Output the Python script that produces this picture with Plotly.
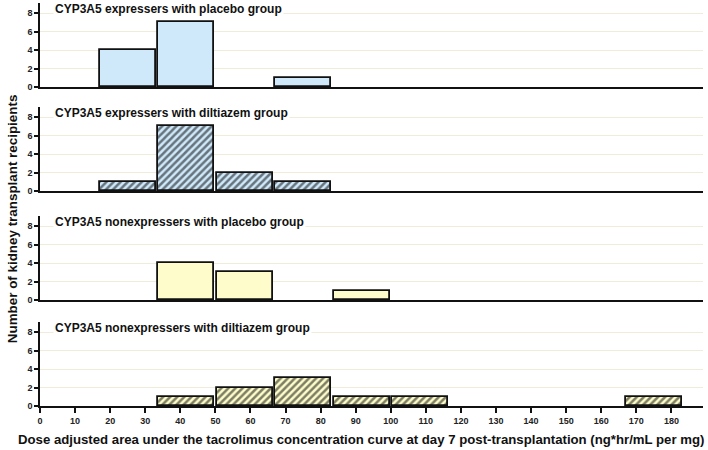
import plotly.graph_objects as go

# Bin centers (bins of width 100/6 on the x axis)
bin_centers = [25.0, 41.67, 58.33, 75.0, 91.67, 108.33, 175.0]
exp_placebo = [4, 7, 0, 1, 0, 0, 0]
exp_diltiazem = [1, 7, 2, 1, 0, 0, 0]
nonexp_placebo = [0, 4, 3, 0, 1, 0, 0]
nonexp_diltiazem = [0, 1, 2, 3, 1, 1, 1]

panel_titles = [
    "CYP3A5 expressers with placebo group",
    "CYP3A5 expressers with diltiazem group",
    "CYP3A5 nonexpressers with placebo group",
    "CYP3A5 nonexpressers with diltiazem group",
]
x_ticks = list(range(0, 181, 10))
y_ticks = [0, 2, 4, 6, 8]

BLUE = "#cfe9fa"
YELLOW = "#fdfcca"
series = [
    (exp_placebo, BLUE, ""),
    (exp_diltiazem, BLUE, "/"),
    (nonexp_placebo, YELLOW, ""),
    (nonexp_diltiazem, YELLOW, "/"),
]
domains = [[0.7916, 1.0], [0.5335, 0.742], [0.263, 0.4715], [0.0, 0.2084]]

FONT = "Liberation Sans, Arial, sans-serif"
fig = go.Figure()
layout = {}
for i, (vals, col, pat) in enumerate(series):
    n = i + 1
    xs = [c for c, v in zip(bin_centers, vals) if v > 0]
    ys = [v for v in vals if v > 0]
    fig.add_trace(go.Bar(
        x=xs, y=ys, width=16.0,
        xaxis=f"x{n}" if n > 1 else "x",
        yaxis=f"y{n}" if n > 1 else "y",
        marker=dict(
            color=col,
            line=dict(color="#111111", width=1.8),
            pattern=dict(shape=pat, fgcolor="#000000", bgcolor=col, size=5, solidity=0.5) if pat else None,
        ),
        showlegend=False,
        hoverinfo="skip",
    ))
    xkey = "xaxis" if n == 1 else f"xaxis{n}"
    ykey = "yaxis" if n == 1 else f"yaxis{n}"
    last = (n == 4)
    layout[xkey] = dict(
        domain=[0, 1], anchor=f"y{n}" if n > 1 else "y",
        range=[0, 189], showgrid=False, zeroline=False, automargin=False,
        showline=True, linecolor="#111111", linewidth=1.6,
        tickvals=x_ticks if last else [],
        ticks="outside" if last else "", ticklen=5, tickwidth=1.5, tickcolor="#111111",
        showticklabels=last,
        tickfont=dict(family=FONT, size=9, color="#222222", weight="bold"),
        matches="x" if n > 1 else None,
    )
    layout[ykey] = dict(
        domain=domains[i], anchor=f"x{n}" if n > 1 else "x",
        range=[0, 9.1], tickvals=y_ticks, automargin=False,
        showgrid=True, gridcolor="#efedda", gridwidth=1,
        zeroline=False, showline=True, linecolor="#111111", linewidth=1.5,
        ticks="outside", ticklen=4, tickwidth=1.5, tickcolor="#111111",
        tickfont=dict(family=FONT, size=9, color="#222222", weight="bold"),
    )
    fig.add_annotation(
        text=panel_titles[i], xref=(f"x{n} domain" if n > 1 else "x domain"),
        yref=(f"y{n} domain" if n > 1 else "y domain"),
        x=0.02, y=0.93, xanchor="left", yanchor="middle", showarrow=False,
        font=dict(family=FONT, size=12, color="#111111", weight="bold"),
        bgcolor="white",
    )

fig.add_annotation(
    text="Number of kidney transplant recipients", textangle=-90,
    xref="paper", yref="paper", x=-0.042, y=0.464, xanchor="center", yanchor="middle",
    showarrow=False, font=dict(family=FONT, size=13.4, color="#111111", weight="bold"),
)
fig.add_annotation(
    text="Dose adjusted area under the tacrolimus concentration curve at day 7 post-transplantation (ng*hr/mL per mg)",
    xref="paper", yref="paper", x=0.484, y=-0.084, xanchor="center", yanchor="middle",
    showarrow=False, font=dict(family=FONT, size=13.2, color="#111111", weight="bold"),
)

fig.update_layout(
    **layout,
    width=708, height=450,
    margin=dict(l=40, r=5, t=3, b=44),
    paper_bgcolor="white", plot_bgcolor="white",
    bargap=0,
)
fig.write_html(
    "out.html",
    config={"displayModeBar": False},
    post_script="document.body.style.margin='0px';document.body.style.overflow='hidden';",
)
